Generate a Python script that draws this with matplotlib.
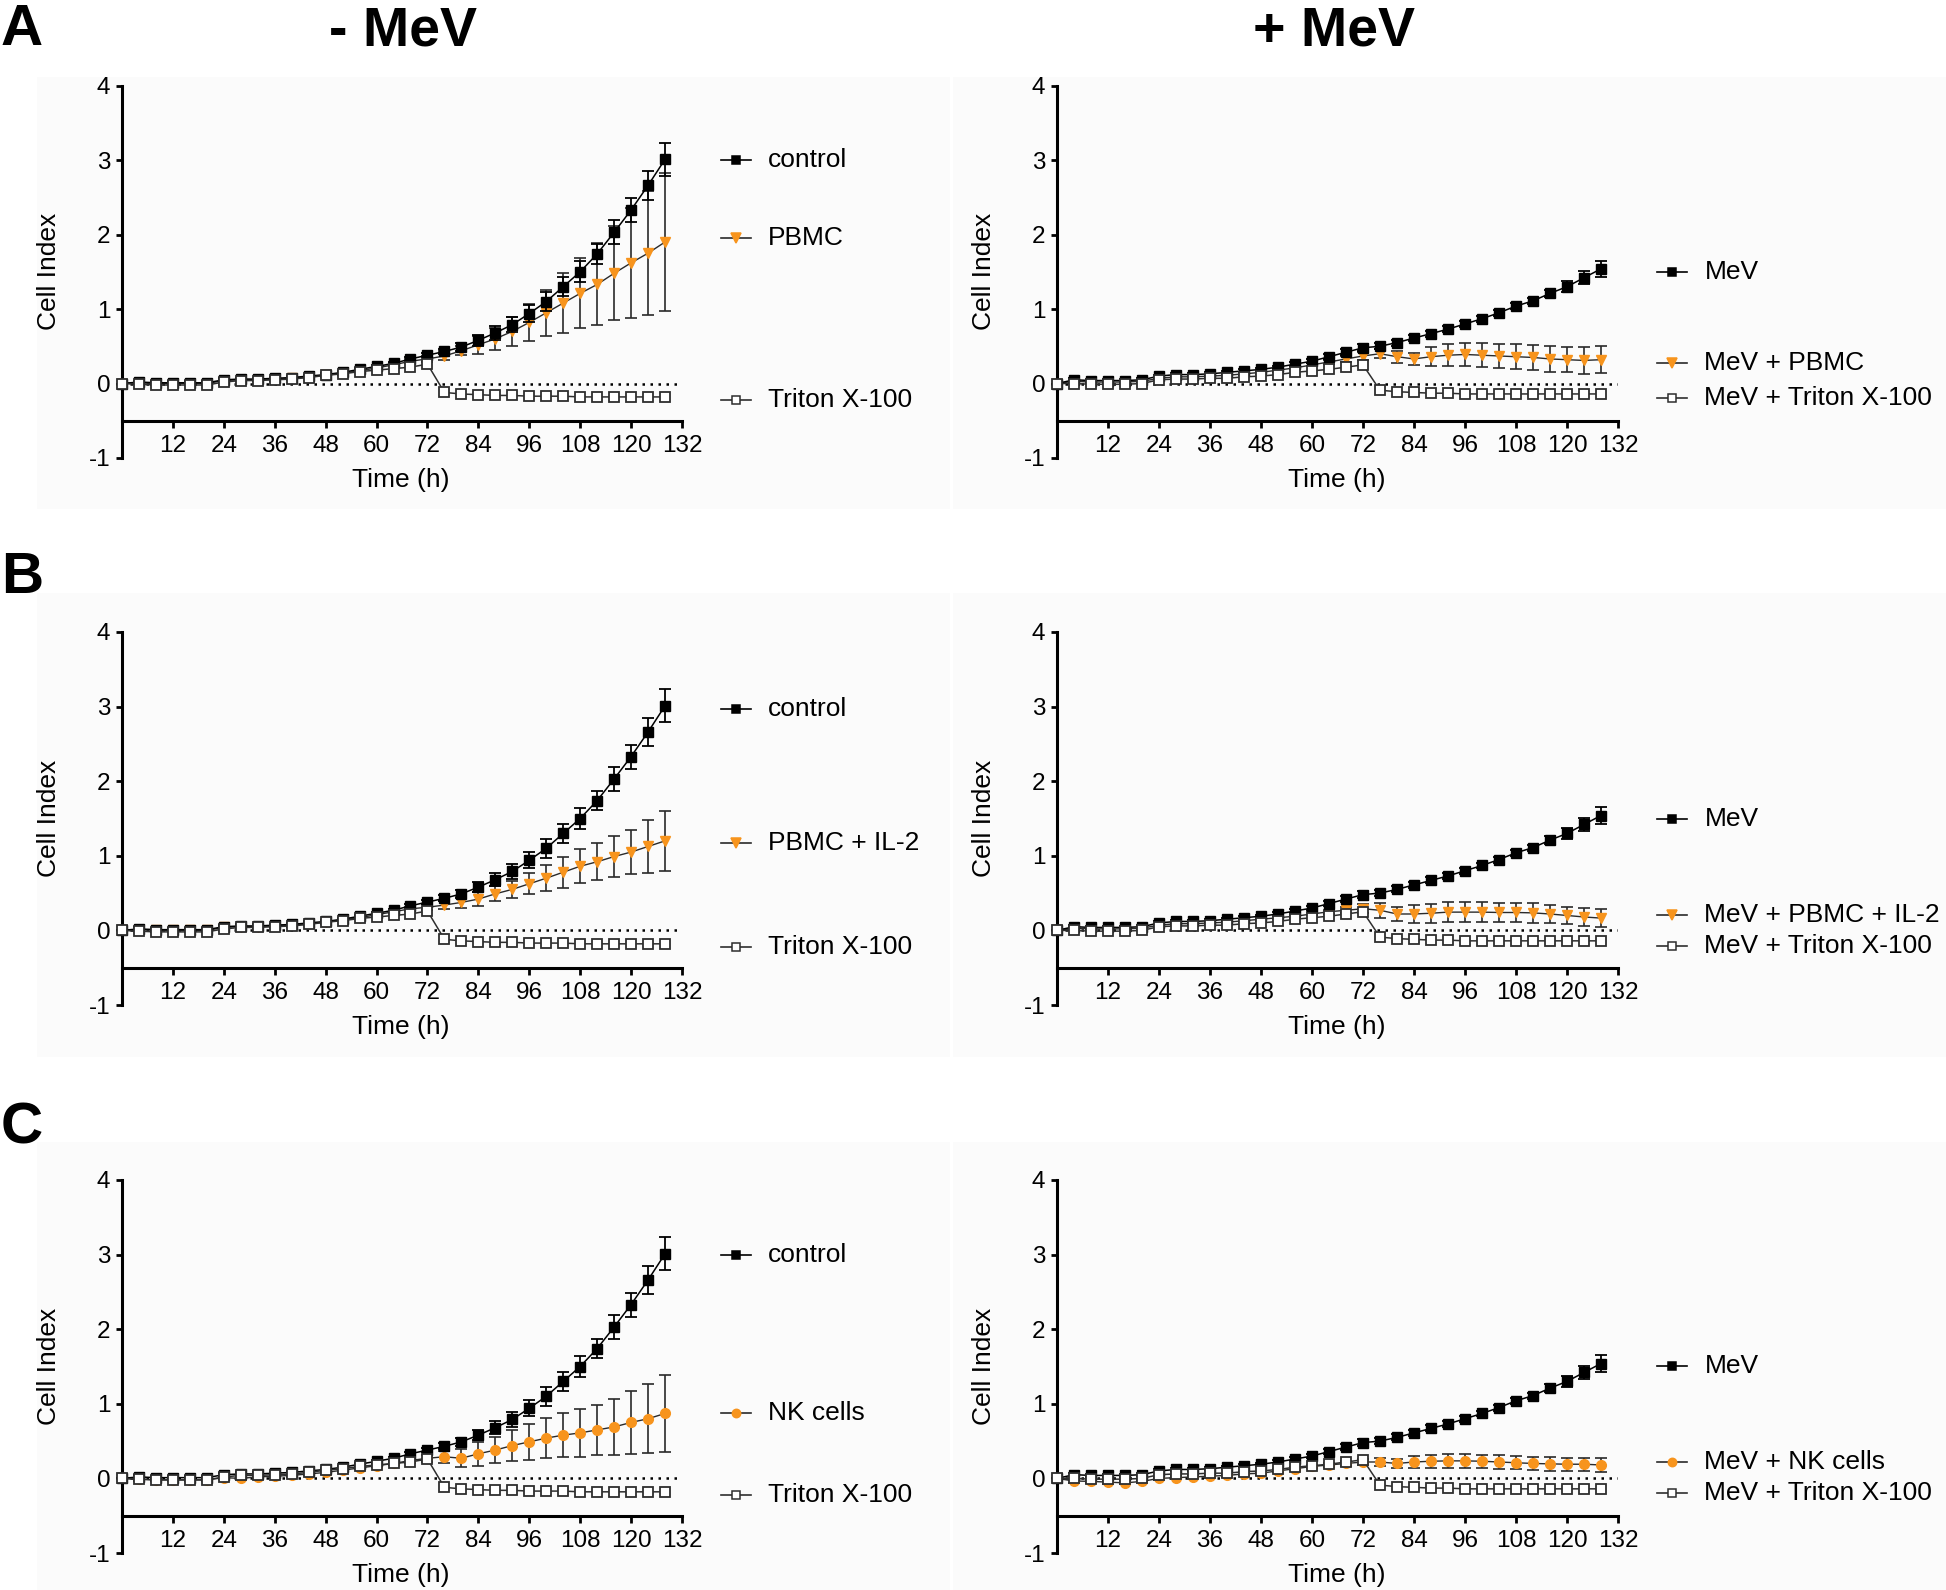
import matplotlib
matplotlib.use("Agg")
import matplotlib.pyplot as plt
from matplotlib.patches import Rectangle
import matplotlib.transforms as mtransforms

plt.rcParams['font.family'] = ['Liberation Sans', 'DejaVu Sans']
plt.rcParams['axes.unicode_minus'] = False

# ---------------- data ----------------
time_h = [0, 4, 8, 12, 16, 20, 24, 28, 32, 36, 40, 44, 48, 52, 56, 60, 64,
          68, 72, 76, 80, 84, 88, 92, 96, 100, 104, 108, 112, 116, 120, 124, 128]

control = [0.00, 0.02, 0.01, 0.01, 0.01, 0.01, 0.05, 0.06, 0.06, 0.07, 0.08, 0.10,
           0.12, 0.15, 0.19, 0.23, 0.27, 0.33, 0.38, 0.43, 0.49, 0.58, 0.68, 0.79,
           0.94, 1.10, 1.30, 1.50, 1.74, 2.03, 2.33, 2.66, 3.01]
control_sd = [0.00, 0.02, 0.02, 0.02, 0.02, 0.02, 0.02, 0.02, 0.02, 0.02, 0.02, 0.02,
              0.02, 0.02, 0.02, 0.02, 0.02, 0.03, 0.03, 0.04, 0.05, 0.07, 0.09, 0.10,
              0.11, 0.13, 0.13, 0.14, 0.13, 0.16, 0.16, 0.19, 0.22]

triton_left = [0.00, -0.01, -0.02, -0.02, -0.02, -0.02, 0.02, 0.04, 0.04, 0.05, 0.06, 0.08,
               0.11, 0.13, 0.16, 0.18, 0.20, 0.22, 0.26, -0.12, -0.14, -0.15, -0.16, -0.16,
               -0.17, -0.17, -0.17, -0.18, -0.18, -0.18, -0.18, -0.18, -0.18]

pbmc = [0.00, 0.01, 0.00, 0.00, 0.00, 0.00, 0.04, 0.05, 0.05, 0.06, 0.07, 0.09,
        0.11, 0.14, 0.17, 0.21, 0.25, 0.30, 0.33, 0.37, 0.44, 0.52, 0.60, 0.70,
        0.82, 0.95, 1.08, 1.21, 1.33, 1.48, 1.62, 1.75, 1.90]
pbmc_sd = [0.00, 0.02, 0.02, 0.02, 0.02, 0.02, 0.02, 0.02, 0.02, 0.02, 0.02, 0.02,
           0.02, 0.02, 0.02, 0.02, 0.02, 0.03, 0.04, 0.06, 0.06, 0.12, 0.15, 0.19,
           0.25, 0.31, 0.40, 0.47, 0.55, 0.63, 0.74, 0.83, 0.92]

pbmc_il2 = [0.00, 0.01, 0.00, 0.00, 0.00, 0.00, 0.04, 0.05, 0.05, 0.06, 0.07, 0.09,
            0.11, 0.14, 0.17, 0.21, 0.25, 0.29, 0.31, 0.34, 0.375, 0.42, 0.49, 0.55,
            0.625, 0.70, 0.78, 0.86, 0.92, 0.99, 1.05, 1.125, 1.20]
pbmc_il2_sd = [0.00, 0.02, 0.02, 0.02, 0.02, 0.02, 0.02, 0.02, 0.02, 0.02, 0.02, 0.02,
               0.02, 0.02, 0.02, 0.02, 0.02, 0.03, 0.04, 0.05, 0.07, 0.09, 0.10, 0.11,
               0.14, 0.17, 0.21, 0.23, 0.25, 0.27, 0.30, 0.35, 0.40]

nk = [0.00, -0.01, -0.02, -0.02, -0.02, -0.02, 0.01, 0.00, 0.02, 0.03, 0.04, 0.06,
      0.08, 0.11, 0.14, 0.17, 0.20, 0.24, 0.27, 0.29, 0.27, 0.33, 0.38, 0.44,
      0.49, 0.54, 0.58, 0.61, 0.65, 0.69, 0.75, 0.80, 0.87]
nk_sd = [0.00, 0.02, 0.02, 0.02, 0.02, 0.02, 0.02, 0.02, 0.02, 0.02, 0.02, 0.02,
         0.02, 0.02, 0.02, 0.02, 0.02, 0.03, 0.05, 0.08, 0.12, 0.16, 0.18, 0.21,
         0.24, 0.27, 0.29, 0.32, 0.34, 0.38, 0.42, 0.46, 0.52]

mev = [0.00, 0.05, 0.04, 0.04, 0.04, 0.05, 0.10, 0.12, 0.12, 0.13, 0.15, 0.17,
       0.19, 0.22, 0.26, 0.30, 0.36, 0.42, 0.48, 0.50, 0.55, 0.61, 0.67, 0.73,
       0.80, 0.87, 0.95, 1.04, 1.11, 1.21, 1.30, 1.42, 1.54]
mev_sd = [0.00, 0.02, 0.02, 0.02, 0.02, 0.02, 0.02, 0.02, 0.02, 0.02, 0.02, 0.02,
          0.02, 0.02, 0.03, 0.03, 0.03, 0.04, 0.05, 0.04, 0.04, 0.04, 0.04, 0.04,
          0.04, 0.04, 0.04, 0.04, 0.04, 0.05, 0.07, 0.09, 0.11]

triton_right = [0.00, 0.00, -0.01, -0.01, -0.01, 0.00, 0.05, 0.06, 0.06, 0.07, 0.07, 0.09,
                0.10, 0.12, 0.15, 0.17, 0.19, 0.22, 0.25, -0.09, -0.11, -0.12, -0.13, -0.13,
                -0.14, -0.14, -0.14, -0.14, -0.14, -0.14, -0.14, -0.14, -0.14]

mev_pbmc = [0.00, 0.03, 0.02, 0.02, 0.02, 0.03, 0.07, 0.09, 0.09, 0.10, 0.11, 0.13,
            0.15, 0.18, 0.21, 0.25, 0.29, 0.33, 0.37, 0.40, 0.36, 0.33, 0.36, 0.38,
            0.39, 0.38, 0.37, 0.36, 0.35, 0.33, 0.32, 0.31, 0.32]
mev_pbmc_sd = [0.00, 0.02, 0.02, 0.02, 0.02, 0.02, 0.02, 0.02, 0.02, 0.02, 0.02, 0.02,
               0.02, 0.02, 0.02, 0.02, 0.03, 0.04, 0.05, 0.06, 0.08, 0.08, 0.13, 0.15,
               0.16, 0.16, 0.16, 0.17, 0.17, 0.17, 0.17, 0.18, 0.18]

mev_pbmc_il2 = [0.00, 0.03, 0.02, 0.02, 0.02, 0.03, 0.07, 0.09, 0.09, 0.10, 0.11, 0.13,
                0.15, 0.17, 0.19, 0.22, 0.25, 0.27, 0.29, 0.27, 0.22, 0.22, 0.23, 0.245,
                0.245, 0.245, 0.24, 0.24, 0.235, 0.22, 0.20, 0.18, 0.165]
mev_pbmc_il2_sd = [0.00, 0.02, 0.02, 0.02, 0.02, 0.02, 0.02, 0.02, 0.02, 0.02, 0.02, 0.02,
                   0.02, 0.02, 0.02, 0.02, 0.03, 0.04, 0.06, 0.10, 0.10, 0.12, 0.13, 0.13,
                   0.13, 0.13, 0.13, 0.13, 0.13, 0.12, 0.12, 0.12, 0.12]

mev_nk = [0.00, -0.035, -0.04, -0.05, -0.06, -0.04, 0.00, 0.01, 0.02, 0.03, 0.04, 0.06,
          0.07, 0.10, 0.13, 0.16, 0.18, 0.20, 0.22, 0.22, 0.20, 0.22, 0.23, 0.235,
          0.235, 0.23, 0.22, 0.21, 0.20, 0.195, 0.19, 0.19, 0.18]
mev_nk_sd = [0.00, 0.02, 0.02, 0.02, 0.02, 0.02, 0.02, 0.02, 0.02, 0.02, 0.02, 0.02,
             0.02, 0.02, 0.02, 0.02, 0.03, 0.03, 0.04, 0.05, 0.06, 0.08, 0.09, 0.09,
             0.09, 0.09, 0.09, 0.09, 0.09, 0.09, 0.09, 0.09, 0.10]

x_ticks = [12, 24, 36, 48, 60, 72, 84, 96, 108, 120, 132]
y_ticks = [-1, 0, 1, 2, 3, 4]

panel_letters = ["A", "B", "C"]
column_titles = ["- MeV", "+ MeV"]

panels = [
    [("control", control, control_sd, "PBMC", pbmc, pbmc_sd, "v", "Triton X-100", triton_left),
     ("MeV", mev, mev_sd, "MeV + PBMC", mev_pbmc, mev_pbmc_sd, "v", "MeV + Triton X-100", triton_right)],
    [("control", control, control_sd, "PBMC + IL-2", pbmc_il2, pbmc_il2_sd, "v", "Triton X-100", triton_left),
     ("MeV", mev, mev_sd, "MeV + PBMC + IL-2", mev_pbmc_il2, mev_pbmc_il2_sd, "v", "MeV + Triton X-100", triton_right)],
    [("control", control, control_sd, "NK cells", nk, nk_sd, "o", "Triton X-100", triton_left),
     ("MeV", mev, mev_sd, "MeV + NK cells", mev_nk, mev_nk_sd, "o", "MeV + Triton X-100", triton_right)],
]

legend_y = [
    [(3.0, 1.95, -0.22), (1.5, 0.28, -0.20)],
    [(2.97, 1.17, -0.22), (1.5, 0.20, -0.21)],
    [(3.0, 0.88, -0.22), (1.51, 0.22, -0.19)],
]

# ---------------- layout ----------------
W, H = 1946, 1590
fig = plt.figure(figsize=(W / 100, H / 100), dpi=100)
fig.patch.set_facecolor("white")

ORANGE = "#F7941D"
BG = "#fbfbfb"
TRITON = "#2e2e2e"

bg_rows = [(77, 509), (593, 1057), (1142, 1590)]
bg_ax = fig.add_axes([0, 0, 1, 1], zorder=-5)
bg_ax.set_xlim(0, W)
bg_ax.set_ylim(H, 0)
bg_ax.axis("off")
for (yt, yb) in bg_rows:
    for (xl, xr) in [(37, 950), (953, 1946)]:
        bg_ax.add_patch(Rectangle((xl, yt), xr - xl, yb - yt, facecolor=BG, edgecolor="none"))

col_x = [(122, 560), (1057, 561)]
row_y = [(85.6, 458), (632, 1005), (1180, 1553)]

for r in range(3):
    for c in range(2):
        x0, w = col_x[c]
        yt, yb = row_y[r]
        ax = fig.add_axes([x0 / W, 1 - yb / H, w / W, (yb - yt) / H], zorder=2)
        ax.set_facecolor("none")
        blab, by, bsd, olab, oy, osd, omark, tlab, ty = panels[r][c]

        ax.set_xlim(0, 132)
        ax.set_ylim(-1, 4)

        ax.plot([0, 132], [0, 0], ls=(0, (1, 2.2)), color="black", lw=1.8, zorder=1)

        ax.errorbar(time_h, oy, yerr=osd, fmt="none", ecolor="#2a2a2a", elinewidth=1.2,
                    capsize=4, capthick=1.2, zorder=2, clip_on=False)
        ax.plot(time_h, oy, color="#2a2a2a", lw=1.0, marker=omark, ms=7.5 if omark == "v" else 7,
                mfc=ORANGE, mec=ORANGE, zorder=2.1, clip_on=False)

        ax.errorbar(time_h, by, yerr=bsd, fmt="none", ecolor="black", elinewidth=1.3,
                    capsize=4, capthick=1.3, zorder=3, clip_on=False)
        ax.plot(time_h, by, color="black", lw=1.1, marker="s", ms=7.2, mfc="black",
                mec="black", zorder=3.1, clip_on=False)

        ax.plot(time_h, ty, color=TRITON, lw=1.1, marker="s", ms=7.2, mfc="white",
                mec=TRITON, mew=1.3, zorder=4, clip_on=False)

        for s in ["top", "right"]:
            ax.spines[s].set_visible(False)
        ax.spines["left"].set_linewidth(2.2)
        ax.spines["bottom"].set_linewidth(2.2)
        ax.spines["bottom"].set_position(("data", -0.5))
        ax.set_xticks(x_ticks)
        ax.set_xticklabels([str(v) for v in x_ticks])
        ax.set_yticks(y_ticks)
        ax.set_yticklabels([str(v) for v in y_ticks])
        ax.tick_params(axis="x", direction="out", length=5, width=2, labelsize=17.5, pad=5)
        ax.tick_params(axis="y", direction="out", length=4.5, width=2, labelsize=17.5, pad=4)

        ax.text(-0.13, 0.5, "Cell Index", rotation=90, transform=ax.transAxes,
                ha="center", va="center", fontsize=19)
        ax.text(0.498, -0.058, "Time (h)", transform=ax.transAxes,
                ha="center", va="center", fontsize=19)

        trans = mtransforms.blended_transform_factory(ax.transAxes, ax.transData)
        ly = legend_y[r][c]
        entries = [
            (blab, "s", "black", "black", "black", ly[0]),
            (olab, omark, ORANGE, ORANGE, "#2a2a2a", ly[1]),
            (tlab, "s", "white", TRITON, TRITON, ly[2]),
        ]
        for lab, mk, fc, ec, lc, yy in entries:
            ax.plot([1.069, 1.123], [yy, yy], color=lc, lw=1.2, transform=trans, clip_on=False)
            ax.plot([1.096], [yy], marker=mk, ms=6 if mk != "v" else 6.5, mfc=fc, mec=ec,
                    mew=1.1, transform=trans, clip_on=False, ls="none")
            ax.text(1.154, yy, lab, transform=trans, ha="left", va="center", fontsize=19)

fig.text(403 / W, 1 - 45 / H, column_titles[0], ha="center", va="baseline",
         fontsize=40, fontweight="bold")
fig.text(1334 / W, 1 - 45 / H, column_titles[1], ha="center", va="baseline",
         fontsize=40, fontweight="bold")
for letter, yb in zip(panel_letters, [45, 593, 1143]):
    fig.text(1 / W, 1 - yb / H, letter, ha="left", va="baseline", fontsize=42,
             fontweight="bold")

fig.savefig("out.png", dpi=100, facecolor="white")
